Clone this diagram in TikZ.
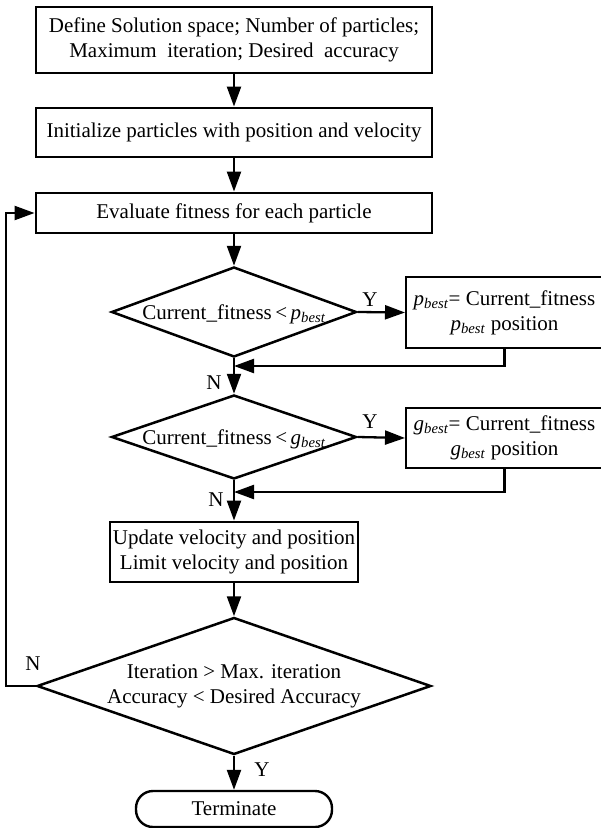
\documentclass[tikz,border=0pt]{standalone}
\usepackage{fontspec}
\setmainfont{Liberation Serif}
\usetikzlibrary{arrows.meta,shapes.geometric}
\newcommand{\pbst}{\textit{p}\textsubscript{\textit{best}}}
\newcommand{\gbst}{\textit{g}\textsubscript{\textit{best}}}
\begin{document}
\begin{tikzpicture}[x=1pt,y=-1pt,
  txt/.style={font=\fontsize{21}{25}\selectfont, align=center},
  mainbox/.style={draw, line width=2.9pt, inner sep=0pt, txt},
  sidebox/.style={draw, line width=2pt, inner sep=0pt, txt},
  dia/.style={draw, diamond, line width=2.5pt, inner sep=0pt},
  conn/.style={line width=2.3pt, -{Triangle[length=20pt,width=14pt]}},
  lab/.style={font=\fontsize{21}{22}\selectfont, inner sep=0pt}]
\useasboundingbox (0,0) rectangle (601,828);

\node[mainbox, minimum width=396pt, minimum height=66pt] (b1) at (234,40)
  {Define Solution space; Number of particles;\\Maximum\ \ iteration; Desired\ \ accuracy};
\node[mainbox, minimum width=396pt, minimum height=49pt] (b2) at (234,132.5)
  {Initialize particles with position and velocity};
\node[mainbox, minimum width=396pt, minimum height=40pt] (b3) at (234,213)
  {Evaluate fitness for each particle};

\node[dia, minimum width=245pt, minimum height=90pt] (d1) at (234,312) {};
\node[txt, inner sep=0pt] (t1) at (234,314) {Current\_fitness\,<\,\pbst};
\node[sidebox, minimum width=197pt, minimum height=71pt] (pb) at (504.5,312.5)
  {\pbst{}= Current\_fitness\\\pbst{} position};

\node[dia, minimum width=245pt, minimum height=84pt] (d2) at (234,437) {};
\node[txt, inner sep=0pt] (t2) at (234,439) {Current\_fitness\,<\,\gbst};
\node[sidebox, minimum width=197pt, minimum height=60pt] (gb) at (504.5,438)
  {\gbst{}= Current\_fitness\\\gbst{} position};

\node[mainbox, minimum width=248pt, minimum height=60pt] (b4) at (234,552)
  {Update velocity and position\\Limit velocity and position};

\node[dia, minimum width=394pt, minimum height=137pt] (d3) at (234,686) {};
\node[txt, inner sep=0pt] (t3) at (234,686) {Iteration > Max. iteration\\Accuracy < Desired Accuracy};

\node[draw, line width=2.4pt, rounded corners=17pt, minimum width=196pt, minimum height=36pt, txt, inner sep=0pt] (term) at (234,809) {Terminate};

\coordinate (j1) at (234,366);
\coordinate (j2) at (234,492);
\coordinate (lp) at (6,0);

\draw[conn] (b1) -- (b2);
\draw[conn] (b2) -- (b3);
\draw[conn] (b3) -- (d1.north);
\draw[conn] (d1.east) -- (pb.west);
\draw[conn] (pb.south) |- (j1);
\draw[conn] (d1.south) -- (d2.north);
\draw[conn] (d2.east) -- (gb.west);
\draw[conn] (gb.south) |- (j2);
\draw[conn] (d2.south) -- (b4.north);
\draw[conn] (b4) -- (d3.north);
\draw[conn] (d3.south) -- (term.north);
\draw[conn] (d3.west) -- (d3.west -| lp) |- (b3.west);

\node[lab] (y1) at (370,300) {Y};
\node[lab] (n1) at (214,383) {N};
\node[lab] (y2) at (370,422) {Y};
\node[lab] (n2) at (216,500) {N};
\node[lab] (n3) at (33,664) {N};
\node[lab] (y3) at (262,770) {Y};
\end{tikzpicture}
\end{document}
